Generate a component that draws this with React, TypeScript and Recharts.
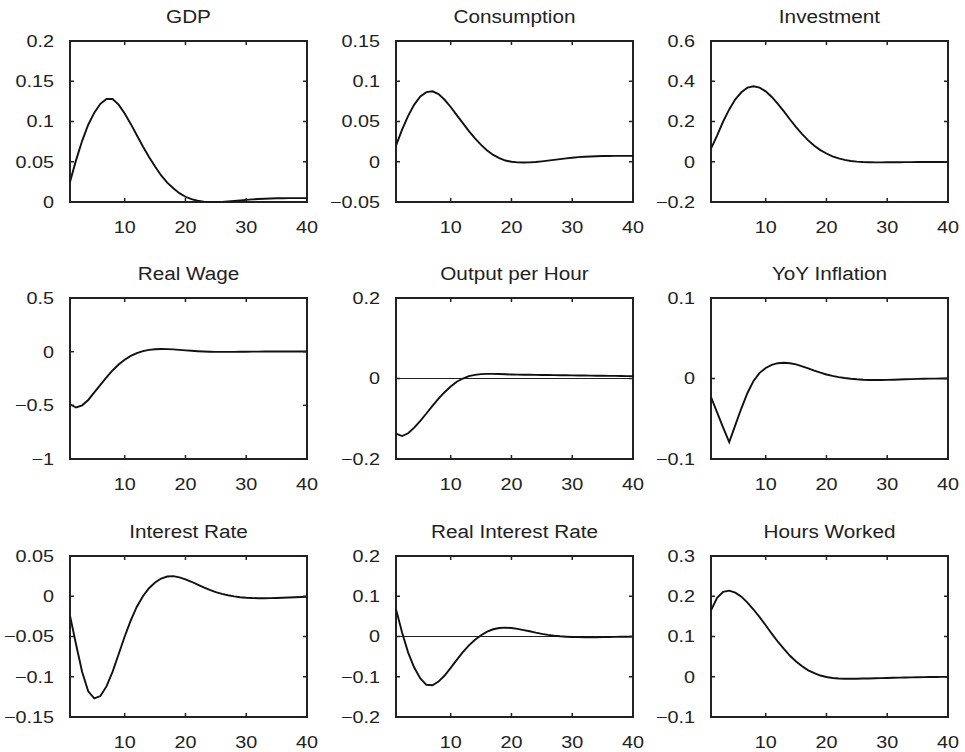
import React from 'react';
import { LineChart, Line, XAxis, YAxis, ReferenceLine, ReferenceArea } from 'recharts';

// impulse responses, periods 1..40
const periods = [
    1, 2, 3, 4, 5, 6, 7, 8, 9, 10, 11, 12, 13, 14, 15, 16, 17, 18, 19, 20,
    21, 22, 23, 24, 25, 26, 27, 28, 29, 30, 31, 32, 33, 34, 35, 36, 37, 38, 39, 40,
];

const gdp = [
    0.025, 0.052, 0.076, 0.096, 0.111, 0.122, 0.128, 0.128, 0.121, 0.11,
    0.097, 0.083, 0.069, 0.056, 0.044, 0.033, 0.024, 0.017, 0.011, 0.0065,
    0.0035, 0.0015, 0.0004, 0.0, 0.0, 0.0001, 0.0006, 0.0012, 0.0019, 0.0026,
    0.0032, 0.0037, 0.0041, 0.0044, 0.0046, 0.0047, 0.0048, 0.0048, 0.0048, 0.0048,
];
const consumption = [
    0.02, 0.04, 0.057, 0.071, 0.081, 0.0865, 0.0875, 0.084, 0.077, 0.068,
    0.058, 0.048, 0.038, 0.029, 0.021, 0.014, 0.0085, 0.0045, 0.0015, 0.0,
    -0.0008, -0.001, -0.0008, -0.0003, 0.0005, 0.0014, 0.0024, 0.0033, 0.0042, 0.005,
    0.0057, 0.0062, 0.0066, 0.0069, 0.0071, 0.0072, 0.0073, 0.0073, 0.0073, 0.0073,
];
const investment = [
    0.065, 0.13, 0.2, 0.26, 0.31, 0.345, 0.368, 0.375, 0.368, 0.35,
    0.322, 0.288, 0.25, 0.21, 0.172, 0.137, 0.106, 0.08, 0.058, 0.041,
    0.027, 0.017, 0.009, 0.004, 0.0005, -0.0015, -0.0025, -0.003, -0.003, -0.0028,
    -0.0025, -0.0022, -0.002, -0.0018, -0.0016, -0.0014, -0.0012, -0.0011, -0.001, -0.001,
];
const realWage = [
    -0.49, -0.52, -0.5, -0.45, -0.38, -0.31, -0.24, -0.175, -0.12, -0.075,
    -0.04, -0.013, 0.005, 0.017, 0.023, 0.025, 0.024, 0.021, 0.017, 0.012,
    0.008, 0.004, 0.001, -0.001, -0.002, -0.002, -0.002, -0.0015, -0.001, -0.0005,
    0.0, 0.0005, 0.001, 0.0013, 0.0015, 0.0017, 0.0018, 0.0018, 0.0018, 0.0018,
];
const outputPerHour = [
    -0.137, -0.143, -0.136, -0.122, -0.105, -0.087, -0.068, -0.05, -0.034, -0.02,
    -0.008, 0.0, 0.006, 0.009, 0.011, 0.0115, 0.0115, 0.011, 0.0105, 0.01,
    0.0097, 0.0094, 0.0092, 0.009, 0.0088, 0.0086, 0.0084, 0.0082, 0.008, 0.0078,
    0.0076, 0.0074, 0.0072, 0.007, 0.0068, 0.0066, 0.0064, 0.0062, 0.006, 0.0058,
];
const inflation = [
    -0.023, -0.042, -0.061, -0.079, -0.058, -0.037, -0.018, -0.003, 0.007, 0.013,
    0.017, 0.019, 0.0195, 0.019, 0.0175, 0.015, 0.0125, 0.0098, 0.0073, 0.005,
    0.0032, 0.0017, 0.0006, -0.0003, -0.001, -0.0015, -0.0018, -0.0019, -0.0019, -0.0017,
    -0.0015, -0.0012, -0.001, -0.0008, -0.0005, -0.0004, -0.0002, -0.0001, 0.0, 0.0,
];
const interestRate = [
    -0.024, -0.06, -0.094, -0.118, -0.127, -0.124, -0.112, -0.094, -0.072, -0.05,
    -0.03, -0.013, 0.0, 0.01, 0.017, 0.022, 0.0245, 0.025, 0.0235, 0.021,
    0.018, 0.0145, 0.011, 0.008, 0.0052, 0.003, 0.0012, -0.0002, -0.0012, -0.0018,
    -0.0022, -0.0024, -0.0024, -0.0023, -0.0021, -0.0018, -0.0015, -0.0012, -0.0009, -0.0006,
];
const realInterestRate = [
    0.068, 0.01, -0.04, -0.077, -0.104, -0.12, -0.121, -0.112, -0.097, -0.078,
    -0.058, -0.039, -0.022, -0.008, 0.003, 0.012, 0.018, 0.021, 0.022, 0.021,
    0.019, 0.016, 0.013, 0.0095, 0.0065, 0.004, 0.002, 0.0005, -0.0005, -0.0012,
    -0.0016, -0.0018, -0.0018, -0.0017, -0.0015, -0.0012, -0.001, -0.0008, -0.0006, -0.0004,
];
const hoursWorked = [
    0.165, 0.196, 0.211, 0.214, 0.209, 0.199, 0.184, 0.167, 0.148, 0.128,
    0.107, 0.087, 0.069, 0.052, 0.038, 0.026, 0.016, 0.009, 0.003, -0.0005,
    -0.003, -0.0045, -0.005, -0.005, -0.0048, -0.0045, -0.0042, -0.0038, -0.0034, -0.003,
    -0.0026, -0.0022, -0.0019, -0.0016, -0.0013, -0.001, -0.0008, -0.0006, -0.0004, -0.0003,
];

const xTicks = [10, 20, 30, 40];
const gdpTicks = [0, 0.05, 0.1, 0.15, 0.2];
const consumptionTicks = [-0.05, 0, 0.05, 0.1, 0.15];
const investmentTicks = [-0.2, 0, 0.2, 0.4, 0.6];
const realWageTicks = [-1, -0.5, 0, 0.5];
const outputPerHourTicks = [-0.2, 0, 0.2];
const inflationTicks = [-0.1, 0, 0.1];
const interestRateTicks = [-0.15, -0.1, -0.05, 0, 0.05];
const realInterestRateTicks = [-0.2, -0.1, 0, 0.1, 0.2];
const hoursWorkedTicks = [-0.1, 0, 0.1, 0.2, 0.3];

// layout
const COL_LEFT = [70, 396, 711];
const ROW_TOP = [41, 298, 556];
const BOX_W = 237;
const BOX_H = 161;
const ML = 70;
const MT = 45;
const MR = 22;
const MB = 45;
const X_LABEL_GAP = 31; // box bottom -> x label baseline
const Y_LABEL_GAP = 16; // box left -> y label right edge
const TICK_LEN = 4;
const FONT = '"Liberation Sans", Arial, Helvetica, sans-serif';
const TEXT = '#222';
const AXIS = '#222';

const fmt = (v: number) => (v < 0 ? '\u2212' + String(Math.abs(v)) : String(v));

// label plus inward tick marks on the left and right edges of the box
function YTick({ x, y, payload }: any) {
    const pl = x + Y_LABEL_GAP;
    const pr = pl + BOX_W;
    return (
        <g>
            <line x1={pl} x2={pl + TICK_LEN} y1={y} y2={y} stroke={AXIS} strokeWidth={1.5} />
            <line x1={pr} x2={pr - TICK_LEN} y1={y} y2={y} stroke={AXIS} strokeWidth={1.5} />
            <g transform={`translate(${x},${y}) scale(1.2,1)`}>
                <text x={0} y={0} dy="0.36em" textAnchor="end" fontSize={16.5} fontFamily={FONT} fill={TEXT}>
                    {fmt(payload.value)}
                </text>
            </g>
        </g>
    );
}

// label plus inward tick marks on the bottom and top edges of the box
function XTick({ x, y, payload }: any) {
    const pb = y - X_LABEL_GAP;
    const pt = pb - BOX_H;
    return (
        <g>
            <line x1={x} x2={x} y1={pb} y2={pb - TICK_LEN} stroke={AXIS} strokeWidth={1.5} />
            <line x1={x} x2={x} y1={pt} y2={pt + TICK_LEN} stroke={AXIS} strokeWidth={1.5} />
            <g transform={`translate(${x},${y}) scale(1.2,1)`}>
                <text x={0} y={0} textAnchor="middle" fontSize={16.5} fontFamily={FONT} fill={TEXT}>
                    {payload.value}
                </text>
            </g>
        </g>
    );
}

interface PanelProps {
    title: string;
    values: number[];
    domain: number[];
    ticks: number[];
    col: number;
    row: number;
    zeroLine?: boolean;
}

function Panel({ title, values, domain, ticks, col, row, zeroLine }: PanelProps) {
    const left = COL_LEFT[col];
    const top = ROW_TOP[row];
    const data = periods.map((p, i) => ({ p, v: values[i] }));
    return (
        <>
            <div
                style={{
                    position: 'absolute',
                    left,
                    top: top - 33,
                    width: BOX_W,
                    textAlign: 'center',
                    fontFamily: FONT,
                    fontSize: 18,
                    lineHeight: '18px',
                    color: TEXT,
                    transform: 'scaleX(1.15)',
                    whiteSpace: 'nowrap',
                }}
            >
                {title}
            </div>
            <div style={{ position: 'absolute', left: left - ML, top: top - MT }}>
                <LineChart
                    width={ML + BOX_W + MR}
                    height={MT + BOX_H + MB}
                    data={data}
                    margin={{ top: MT, right: MR, left: 0, bottom: 0 }}
                >
                    <XAxis
                        dataKey="p"
                        type="number"
                        domain={[1, 40]}
                        ticks={xTicks}
                        interval={0}
                        height={MB}
                        tickLine={false}
                        tickSize={0}
                        tickMargin={X_LABEL_GAP}
                        tick={<XTick />}
                        stroke={AXIS}
                    />
                    <YAxis
                        type="number"
                        domain={domain}
                        ticks={ticks}
                        interval={0}
                        width={ML}
                        tickLine={false}
                        tickSize={0}
                        tickMargin={Y_LABEL_GAP}
                        tick={<YTick />}
                        stroke={AXIS}
                    />
                    {/* full axes box */}
                    <ReferenceArea
                        x1={1}
                        x2={40}
                        y1={domain[0]}
                        y2={domain[1]}
                        ifOverflow="visible"
                        fill="none"
                        fillOpacity={0}
                        stroke={AXIS}
                        strokeWidth={2}
                        strokeOpacity={1}
                    />
                    {zeroLine && <ReferenceLine y={0} stroke={AXIS} strokeWidth={1} />}
                    <Line
                        dataKey="v"
                        type="linear"
                        stroke="#111"
                        strokeWidth={1.9}
                        dot={false}
                        isAnimationActive={false}
                    />
                </LineChart>
            </div>
        </>
    );
}

export default function App() {
    return (
        <div
            style={{
                position: 'absolute',
                left: 0,
                top: 0,
                width: 965,
                height: 752,
                overflow: 'hidden',
                background: '#fff',
            }}
        >
            <Panel title="GDP" values={gdp} domain={[0, 0.2]} ticks={gdpTicks} col={0} row={0} />
            <Panel title="Consumption" values={consumption} domain={[-0.05, 0.15]} ticks={consumptionTicks} col={1} row={0} />
            <Panel title="Investment" values={investment} domain={[-0.2, 0.6]} ticks={investmentTicks} col={2} row={0} />
            <Panel title="Real Wage" values={realWage} domain={[-1, 0.5]} ticks={realWageTicks} col={0} row={1} />
            <Panel title="Output per Hour" values={outputPerHour} domain={[-0.2, 0.2]} ticks={outputPerHourTicks} col={1} row={1} zeroLine />
            <Panel title="YoY Inflation" values={inflation} domain={[-0.1, 0.1]} ticks={inflationTicks} col={2} row={1} />
            <Panel title="Interest Rate" values={interestRate} domain={[-0.15, 0.05]} ticks={interestRateTicks} col={0} row={2} />
            <Panel title="Real Interest Rate" values={realInterestRate} domain={[-0.2, 0.2]} ticks={realInterestRateTicks} col={1} row={2} zeroLine />
            <Panel title="Hours Worked" values={hoursWorked} domain={[-0.1, 0.3]} ticks={hoursWorkedTicks} col={2} row={2} />
        </div>
    );
}
